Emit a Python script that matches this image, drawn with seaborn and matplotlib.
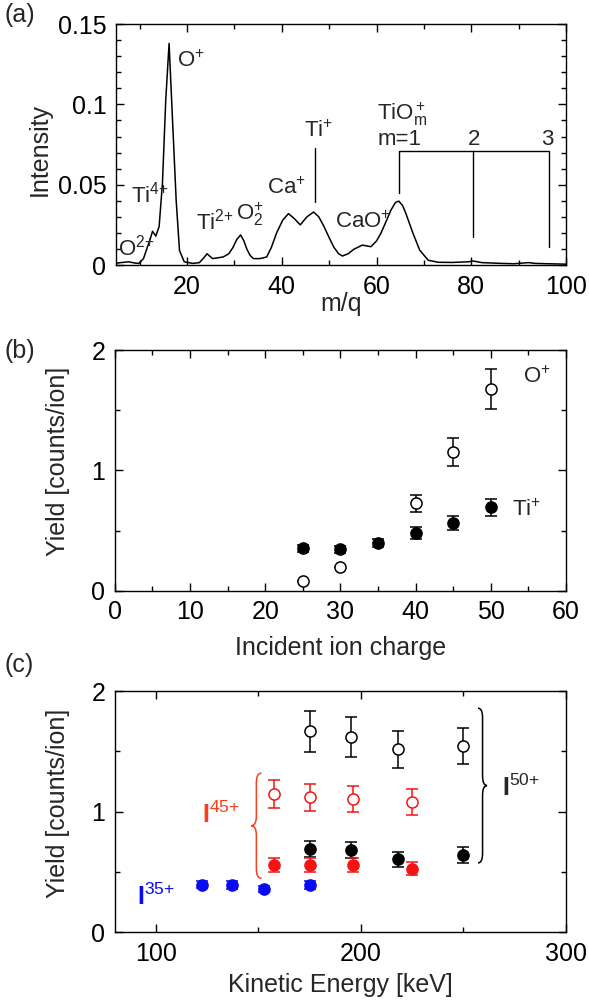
import matplotlib
matplotlib.use("Agg")
import matplotlib.pyplot as plt
import seaborn as sns
from matplotlib.path import Path
from matplotlib.patches import PathPatch
from matplotlib.ticker import MultipleLocator

# (a) mass spectrum
mq = [4.8, 6.0, 7.7, 9.0, 9.8, 10.8, 11.6, 12.2, 12.7, 13.4, 14.1, 14.8, 15.5, 16.2,
      16.9, 17.7, 18.4, 19.4, 21.2, 22.6, 23.4, 24.2, 25.4, 26.5, 27.6, 28.8, 29.7,
      30.5, 31.3, 32.0, 32.6, 33.3, 34.0, 35.4, 36.8, 37.8, 38.9, 40.2, 41.4, 42.6,
      43.9, 45.3, 46.7, 47.8, 48.9, 50.0, 51.0, 52.0, 52.8, 54.0, 55.2, 57.0, 58.8,
      60.0, 60.9, 62.0, 63.0, 64.0, 64.7, 65.5, 66.2, 67.7, 69.1, 70.9, 73.0, 76.0,
      79.4, 80.4, 82.2, 86.4, 89.0, 92.1, 93.5, 96.0, 99.2, 100.0]
intensity = [0.001, 0.0015, 0.002, 0.0012, 0.001, 0.004, 0.011, 0.016, 0.021, 0.018,
             0.024, 0.051, 0.103, 0.138, 0.092, 0.040, 0.009, 0.002, 0.001, 0.0015,
             0.004, 0.007, 0.004, 0.0045, 0.005, 0.007, 0.011, 0.016, 0.0187, 0.015,
             0.010, 0.006, 0.004, 0.004, 0.005, 0.011, 0.020, 0.028, 0.032, 0.029,
             0.025, 0.030, 0.033, 0.030, 0.024, 0.017, 0.011, 0.007, 0.0056, 0.007,
             0.0098, 0.0124, 0.0114, 0.015, 0.0197, 0.027, 0.034, 0.039, 0.0398, 0.037,
             0.032, 0.0197, 0.0093, 0.003, 0.0017, 0.0016, 0.002, 0.0025, 0.0015, 0.001,
             0.0008, 0.0015, 0.001, 0.0008, 0.0006, 0.0005]

# (b) yield vs incident charge
charge_ti = [25, 30, 35, 40, 45, 50]
yield_ti = [0.352, 0.344, 0.396, 0.482, 0.563, 0.693]
err_ti = [0.03, 0.03, 0.03, 0.05, 0.06, 0.07]
charge_o = [25, 30, 40, 45, 50]
yield_o = [0.083, 0.194, 0.726, 1.150, 1.674]
err_o = [0.0, 0.0, 0.07, 0.115, 0.165]

# (c) yield vs kinetic energy
e50 = [175, 195, 218, 250]
o50 = [1.668, 1.616, 1.516, 1.546]
o50_err = [0.17, 0.165, 0.15, 0.15]
ti50 = [0.69, 0.682, 0.607, 0.64]
ti50_err = [0.066, 0.065, 0.062, 0.068]
e45 = [157.5, 175, 196, 225]
o45 = [1.146, 1.118, 1.104, 1.082]
o45_err = [0.116, 0.11, 0.11, 0.108]
ti45 = [0.56, 0.558, 0.558, 0.527]
ti45_err = [0.057, 0.06, 0.06, 0.052]
e35 = [122.5, 137, 152.5, 175]
ti35 = [0.395, 0.392, 0.359, 0.392]
ti35_err = [0.03, 0.03, 0.025, 0.035]

BLUE = "#0a0af5"
RED = "#f51414"
ORANGE = "#f4401c"

sns.set_theme(style="ticks")
plt.rcParams["font.family"] = ["Liberation Sans", "DejaVu Sans"]
plt.rcParams["mathtext.fontset"] = "custom"
plt.rcParams["mathtext.rm"] = "Liberation Sans"
plt.rcParams["mathtext.it"] = "Liberation Sans:italic"
plt.rcParams["mathtext.bf"] = "Liberation Sans:bold"
plt.rcParams["mathtext.default"] = "regular"
plt.rcParams["axes.edgecolor"] = "black"
plt.rcParams["axes.linewidth"] = 1.0

FS = 18
ANN = 16

fig = plt.figure(figsize=(5.89, 10.05), dpi=100)
ax_a = fig.add_axes([0.197, 0.7363, 0.764, 0.2397])
ax_b = fig.add_axes([0.195, 0.4122, 0.766, 0.2395])
ax_c = fig.add_axes([0.195, 0.0723, 0.766, 0.2401])


def style_axes(ax):
    ax.tick_params(which="both", direction="in", top=True, right=True,
                   colors="black", labelsize=FS, width=1.0)
    ax.tick_params(which="major", length=6, pad=7)
    ax.tick_params(which="minor", length=3.5)
    for s in ax.spines.values():
        s.set_color("black")


def points(ax, x, y, err, color, filled):
    ax.errorbar(x, y, yerr=err, fmt="none", ecolor=color, elinewidth=1.1,
                capsize=4, capthick=1.1, zorder=2)
    sns.scatterplot(x=x, y=y, ax=ax, s=64, marker="o",
                    color=color if filled else "white",
                    edgecolor=color, linewidth=1.1, zorder=3, legend=False)


def brace(ax, x, y0, y1, w, h, color):
    ym = (y0 + y1) / 2
    verts = [(x + w, y1), (x, y1), (x, y1 - h),
             (x, ym + h),
             (x, ym), (x - w, ym),
             (x, ym), (x, ym - h),
             (x, y0 + h),
             (x, y0), (x + w, y0)]
    codes = [Path.MOVETO, Path.CURVE3, Path.CURVE3,
             Path.LINETO,
             Path.CURVE3, Path.CURVE3,
             Path.CURVE3, Path.CURVE3,
             Path.LINETO,
             Path.CURVE3, Path.CURVE3]
    ax.add_patch(PathPatch(Path(verts, codes), fill=False, edgecolor=color, lw=1.1))


# ---- (a)
sns.lineplot(x=mq, y=intensity, ax=ax_a, color="black", lw=1.1)
ax_a.set_xlim(5, 100)
ax_a.set_ylim(0, 0.15)
ax_a.xaxis.set_major_locator(MultipleLocator(20))
ax_a.xaxis.set_minor_locator(MultipleLocator(10))
ax_a.yaxis.set_major_locator(MultipleLocator(0.05))
ax_a.yaxis.set_minor_locator(MultipleLocator(0.01))
ax_a.set_yticks([0, 0.05, 0.1, 0.15], ["0", "0.05", "0.1", "0.15"])
style_axes(ax_a)
ax_a.set_xlabel("m/q", fontsize=FS)
ax_a.set_ylabel("Intensity", fontsize=FS)
ax_a.xaxis.set_label_coords(0.5, -0.11)
ax_a.yaxis.set_label_coords(-0.142, 0.48)

for txt, x, y in [("$O^{{+}}$", 17.9, 0.1234), ("$Ti^{4{+}}$", 8.1, 0.039),
                  ("$O^{2{+}}$", 5.4, 0.0062), ("$Ti^{2{+}}$", 21.9, 0.0222),
                  ("$O_2^{{+}}$", 30.4, 0.028), ("$Ca^{{+}}$", 36.8, 0.0442),
                  ("$Ti^{{+}}$", 44.6, 0.0795), ("$CaO^{{+}}$", 51.3, 0.0228),
                  ("$TiO_m^{\\,{+}}$", 60.1, 0.0902), ("m=1", 60.3, 0.0747),
                  ("2", 79.2, 0.0747), ("3", 94.7, 0.0747)]:
    ax_a.text(x, y, txt, fontsize=ANN, va="baseline", ha="left")
ax_a.plot([47, 47], [0.0395, 0.0726], color="black", lw=1.0)
ax_a.plot([64.7, 64.7, 96.5, 96.5], [0.0446, 0.0709, 0.0709, 0.0114], color="black", lw=1.0)
ax_a.plot([80.4, 80.4], [0.0709, 0.0176], color="black", lw=1.0)

# ---- (b)
points(ax_b, charge_ti, yield_ti, err_ti, "black", True)
points(ax_b, charge_o, yield_o, err_o, "black", False)
ax_b.set_xlim(0, 60)
ax_b.set_ylim(0, 2)
ax_b.xaxis.set_major_locator(MultipleLocator(10))
ax_b.xaxis.set_minor_locator(MultipleLocator(5))
ax_b.yaxis.set_major_locator(MultipleLocator(1))
ax_b.yaxis.set_minor_locator(MultipleLocator(0.5))
style_axes(ax_b)
ax_b.set_xlabel("Incident ion charge", fontsize=FS)
ax_b.set_ylabel("Yield [counts/ion]", fontsize=FS)
ax_b.xaxis.set_label_coords(0.5, -0.19)
ax_b.yaxis.set_label_coords(-0.10, 0.536)
ax_b.text(54.3, 1.729, "$O^{{+}}$", fontsize=ANN, va="baseline")
ax_b.text(52.8, 0.621, "$Ti^{{+}}$", fontsize=ANN, va="baseline")

# ---- (c)
points(ax_c, e50, o50, o50_err, "black", False)
points(ax_c, e50, ti50, ti50_err, "black", True)
points(ax_c, e45, o45, o45_err, RED, False)
points(ax_c, e45, ti45, ti45_err, RED, True)
points(ax_c, e35, ti35, ti35_err, BLUE, True)
ax_c.set_xlim(80, 300)
ax_c.set_ylim(0, 2)
ax_c.xaxis.set_major_locator(MultipleLocator(100))
ax_c.xaxis.set_minor_locator(MultipleLocator(50))
ax_c.yaxis.set_major_locator(MultipleLocator(1))
ax_c.yaxis.set_minor_locator(MultipleLocator(0.5))
style_axes(ax_c)
ax_c.set_xlabel("Kinetic Energy [keV]", fontsize=FS)
ax_c.set_ylabel("Yield [counts/ion]", fontsize=FS)
ax_c.xaxis.set_label_coords(0.5, -0.17)
ax_c.yaxis.set_label_coords(-0.10, 0.536)

brace(ax_c, 149, 0.447, 1.32, 2.5, 0.08, ORANGE)
brace(ax_c, 259.3, 0.575, 1.858, -2.2, 0.08, "black")
ax_c.text(268.6, 1.129, "$\\mathbf{I}^{50{+}}$", fontsize=18, va="baseline")
ax_c.text(122.3, 0.908, "$\\mathbf{I}^{45{+}}$", fontsize=18, va="baseline", color=ORANGE)
ax_c.text(90.9, 0.227, "$\\mathbf{I}^{35{+}}$", fontsize=18, va="baseline", color=BLUE)

fig.text(0.008, 0.985, "(a)", fontsize=FS, va="center")
fig.text(0.008, 0.651, "(b)", fontsize=FS, va="center")
fig.text(0.008, 0.338, "(c)", fontsize=FS, va="center")

fig.savefig("out.png", dpi=100)
